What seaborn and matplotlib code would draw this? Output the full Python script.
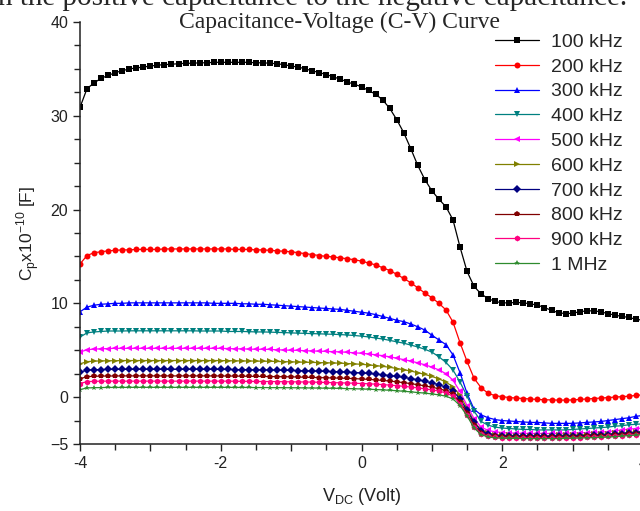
import numpy as np
import pandas as pd
import matplotlib
matplotlib.use("Agg")
import matplotlib.pyplot as plt
import seaborn as sns
from matplotlib.ticker import MultipleLocator, FuncFormatter

# bias voltage, -4 V to 4 V in 0.1 V steps
v_dc = np.round(np.arange(-40, 41) / 10, 1)

freqs = ["100 kHz", "200 kHz", "300 kHz", "400 kHz", "500 kHz",
         "600 kHz", "700 kHz", "800 kHz", "900 kHz", "1 MHz"]

# Cp x 1e-10 F
cp_100k = [30.9, 32.9, 33.5, 34.0, 34.3, 34.6, 34.8, 35.0, 35.1, 35.2,
           35.3, 35.4, 35.45, 35.5, 35.55, 35.6, 35.6, 35.65, 35.65, 35.7,
           35.7, 35.7, 35.7, 35.7, 35.7, 35.65, 35.65, 35.6, 35.55, 35.45,
           35.3, 35.2, 35.0, 34.8, 34.6, 34.4, 34.15, 33.9, 33.6, 33.35,
           33.1, 32.7, 32.3, 31.7, 30.8, 29.6, 28.2, 26.5, 24.7, 23.2,
           22.0, 21.1, 20.3, 18.9, 16.0, 13.4, 11.8, 11.0, 10.5, 10.2,
           10.05, 10.05, 10.1, 10.05, 9.95, 9.8, 9.55, 9.25, 9.0, 8.9,
           8.95, 9.1, 9.2, 9.2, 9.1, 8.9, 8.75, 8.6, 8.5, 8.3,
           8.2]
cp_200k = [14.2, 15.1, 15.4, 15.5, 15.6, 15.65, 15.7, 15.7, 15.75, 15.75,
           15.75, 15.75, 15.8, 15.8, 15.8, 15.8, 15.8, 15.8, 15.8, 15.8,
           15.8, 15.8, 15.75, 15.75, 15.75, 15.7, 15.7, 15.65, 15.6, 15.55,
           15.5, 15.4, 15.3, 15.2, 15.1, 15.0, 14.95, 14.85, 14.75, 14.65,
           14.5, 14.3, 14.1, 13.8, 13.5, 13.1, 12.65, 12.2, 11.65, 11.1,
           10.6, 10.0, 9.3, 8.0, 5.8, 3.8, 2.0, 1.0, 0.4, 0.15,
           0.05, -0.05, -0.1, -0.15, -0.2, -0.25, -0.28, -0.3, -0.32, -0.32,
           -0.3, -0.25, -0.2, -0.15, -0.1, -0.05, 0.0, 0.05, 0.1, 0.18,
           0.25]
cp_300k = [9.1, 9.6, 9.8, 9.9, 9.95, 10.0, 10.0, 10.05, 10.05, 10.05,
           10.05, 10.05, 10.05, 10.05, 10.05, 10.05, 10.05, 10.05, 10.05, 10.0,
           10.0, 10.0, 10.0, 9.95, 9.95, 9.9, 9.9, 9.85, 9.8, 9.75,
           9.7, 9.65, 9.6, 9.55, 9.5, 9.45, 9.4, 9.35, 9.25, 9.15,
           9.05, 8.95, 8.8, 8.6, 8.4, 8.2, 8.05, 7.8, 7.5, 7.15,
           6.6, 6.1, 5.6, 4.5, 2.6, 0.4, -1.3, -1.9, -2.2, -2.4,
           -2.5, -2.55, -2.6, -2.65, -2.7, -2.7, -2.75, -2.8, -2.8, -2.8,
           -2.8, -2.75, -2.7, -2.65, -2.6, -2.5, -2.4, -2.3, -2.2, -2.05,
           -1.95]
cp_400k = [6.4, 6.85, 6.95, 7.0, 7.05, 7.05, 7.05, 7.07, 7.07, 7.07,
           7.07, 7.07, 7.07, 7.07, 7.07, 7.07, 7.07, 7.05, 7.05, 7.05,
           7.05, 7.0, 7.0, 7.0, 6.98, 6.95, 6.95, 6.93, 6.9, 6.88,
           6.85, 6.82, 6.8, 6.77, 6.75, 6.72, 6.7, 6.67, 6.62, 6.57,
           6.5, 6.42, 6.3, 6.2, 6.05, 5.9, 5.75, 5.55, 5.35, 5.1,
           4.8, 4.3, 3.7, 2.9, 1.6, 0.1, -1.5, -2.6, -3.0, -3.2,
           -3.3, -3.35, -3.4, -3.45, -3.45, -3.5, -3.5, -3.5, -3.5, -3.5,
           -3.45, -3.4, -3.35, -3.3, -3.25, -3.2, -3.1, -3.05, -2.95, -2.9,
           -2.85]
cp_500k = [4.8, 5.05, 5.12, 5.15, 5.18, 5.2, 5.2, 5.2, 5.2, 5.2,
           5.2, 5.2, 5.2, 5.2, 5.2, 5.2, 5.2, 5.2, 5.2, 5.2,
           5.2, 5.18, 5.15, 5.15, 5.12, 5.1, 5.1, 5.08, 5.05, 5.02,
           5.0, 4.98, 4.95, 4.92, 4.9, 4.87, 4.85, 4.82, 4.78, 4.72,
           4.68, 4.6, 4.52, 4.42, 4.3, 4.15, 4.0, 3.85, 3.65, 3.45,
           3.2, 2.9, 2.5, 1.8, 0.6, -0.9, -2.3, -3.2, -3.55, -3.7,
           -3.78, -3.82, -3.85, -3.87, -3.88, -3.88, -3.88, -3.88, -3.87, -3.85,
           -3.83, -3.8, -3.78, -3.75, -3.72, -3.68, -3.6, -3.5, -3.42, -3.35,
           -3.3]
cp_600k = [3.55, 3.78, 3.84, 3.86, 3.88, 3.88, 3.9, 3.9, 3.9, 3.9,
           3.9, 3.9, 3.9, 3.9, 3.9, 3.9, 3.9, 3.9, 3.9, 3.9,
           3.9, 3.88, 3.87, 3.86, 3.85, 3.84, 3.83, 3.82, 3.8, 3.78,
           3.76, 3.74, 3.72, 3.7, 3.68, 3.66, 3.64, 3.62, 3.58, 3.54,
           3.5, 3.43, 3.36, 3.28, 3.18, 3.05, 2.92, 2.78, 2.6, 2.42,
           2.2, 1.95, 1.6, 1.1, 0.2, -1.2, -2.6, -3.5, -3.85, -4.0,
           -4.05, -4.08, -4.1, -4.1, -4.1, -4.1, -4.1, -4.1, -4.08, -4.06,
           -4.05, -4.02, -4.0, -3.98, -3.95, -3.92, -3.88, -3.82, -3.76, -3.7,
           -3.65]
cp_700k = [2.65, 2.88, 2.92, 2.94, 2.95, 2.95, 2.96, 2.96, 2.96, 2.96,
           2.96, 2.96, 2.96, 2.96, 2.96, 2.96, 2.96, 2.96, 2.96, 2.96,
           2.95, 2.95, 2.94, 2.93, 2.92, 2.91, 2.9, 2.89, 2.88, 2.86,
           2.84, 2.82, 2.8, 2.78, 2.76, 2.74, 2.72, 2.7, 2.66, 2.62,
           2.58, 2.52, 2.45, 2.38, 2.3, 2.2, 2.1, 1.98, 1.85, 1.7,
           1.52, 1.32, 1.05, 0.65, -0.2, -1.4, -2.7, -3.6, -3.95, -4.1,
           -4.15, -4.18, -4.2, -4.2, -4.2, -4.2, -4.2, -4.2, -4.18, -4.16,
           -4.15, -4.12, -4.1, -4.08, -4.05, -4.02, -3.98, -3.92, -3.86, -3.8,
           -3.75]
cp_800k = [1.95, 2.18, 2.22, 2.24, 2.25, 2.25, 2.26, 2.26, 2.26, 2.26,
           2.26, 2.26, 2.26, 2.26, 2.26, 2.26, 2.26, 2.26, 2.26, 2.26,
           2.25, 2.25, 2.24, 2.23, 2.22, 2.21, 2.2, 2.19, 2.18, 2.17,
           2.16, 2.14, 2.12, 2.1, 2.08, 2.06, 2.04, 2.02, 2.0, 1.97,
           1.93, 1.89, 1.84, 1.78, 1.71, 1.63, 1.54, 1.44, 1.32, 1.2,
           1.05, 0.9, 0.68, 0.3, -0.5, -1.7, -3.0, -3.8, -4.1, -4.2,
           -4.25, -4.27, -4.28, -4.3, -4.3, -4.3, -4.3, -4.3, -4.28, -4.27,
           -4.25, -4.22, -4.2, -4.17, -4.14, -4.1, -4.06, -4.0, -3.95, -3.9,
           -3.85]
cp_900k = [1.45, 1.65, 1.68, 1.7, 1.7, 1.7, 1.7, 1.7, 1.7, 1.7,
           1.7, 1.7, 1.7, 1.7, 1.7, 1.7, 1.7, 1.7, 1.7, 1.7,
           1.7, 1.7, 1.69, 1.68, 1.68, 1.67, 1.66, 1.66, 1.65, 1.64,
           1.63, 1.62, 1.61, 1.6, 1.58, 1.56, 1.54, 1.52, 1.5, 1.48,
           1.45, 1.42, 1.38, 1.33, 1.28, 1.22, 1.15, 1.07, 0.98, 0.88,
           0.77, 0.64, 0.45, 0.1, -0.7, -1.9, -3.2, -3.9, -4.2, -4.3,
           -4.33, -4.35, -4.36, -4.37, -4.38, -4.38, -4.38, -4.38, -4.37, -4.36,
           -4.35, -4.32, -4.3, -4.28, -4.25, -4.2, -4.15, -4.1, -4.05, -4.0,
           -3.95]
cp_1m = [0.8, 0.98, 1.0, 1.02, 1.03, 1.03, 1.03, 1.04, 1.04, 1.04,
         1.04, 1.04, 1.04, 1.04, 1.04, 1.04, 1.04, 1.04, 1.04, 1.04,
         1.04, 1.04, 1.03, 1.03, 1.03, 1.02, 1.02, 1.01, 1.01, 1.0,
         1.0, 0.99, 0.98, 0.97, 0.96, 0.95, 0.94, 0.93, 0.91, 0.89,
         0.87, 0.84, 0.81, 0.77, 0.73, 0.68, 0.62, 0.56, 0.49, 0.42,
         0.34, 0.24, 0.1, -0.2, -0.9, -2.0, -3.3, -4.0, -4.25, -4.35,
         -4.38, -4.4, -4.4, -4.42, -4.42, -4.42, -4.42, -4.42, -4.42, -4.4,
         -4.38, -4.36, -4.34, -4.32, -4.3, -4.26, -4.22, -4.16, -4.1, -4.05,
         -4.0]

series = [cp_100k, cp_200k, cp_300k, cp_400k, cp_500k,
          cp_600k, cp_700k, cp_800k, cp_900k, cp_1m]
colors = ["#000000", "#ff0000", "#0000ff", "#008080", "#ff00ff",
          "#808000", "#000080", "#800000", "#ff0080", "#2e8b2e"]
markers = ["s", "o", "^", "v", "<", ">", "D", "p", "h", "*"]

sns.set_style("ticks")
plt.rcParams["font.family"] = ["Liberation Sans", "DejaVu Sans"]
serif = ["Liberation Serif", "DejaVu Serif"]

fig = plt.figure(figsize=(6.4, 5.11), dpi=100)
ax = fig.add_axes([80 / 640, 1 - 444 / 511, 563 / 640, 422 / 511])

for f, cp, c, m in zip(freqs, series, colors, markers):
    df = pd.DataFrame({"V": v_dc, "Cp": cp})
    sns.lineplot(data=df, x="V", y="Cp", ax=ax, color=c, marker=m,
                 markersize=4.3, markeredgewidth=0, linewidth=0.9, label=f)

ax.set_xlim(-4, 4)
ax.set_ylim(-5, 40)
ax.xaxis.set_major_locator(MultipleLocator(1))
ax.xaxis.set_minor_locator(MultipleLocator(0.5))
ax.xaxis.set_major_formatter(FuncFormatter(lambda v, p: f"{v:.0f}" if round(v) % 2 == 0 else ""))
ax.set_yticks([-5, 0, 10, 20, 30, 40])
ax.yaxis.set_minor_locator(MultipleLocator(2.5))
ax.tick_params(which="major", direction="out", length=5, width=1, labelsize=11.5, colors="#222222")
ax.tick_params(which="minor", direction="out", length=4, width=1, colors="#222222")
for s in ["top", "right"]:
    ax.spines[s].set_visible(False)
for s in ["left", "bottom"]:
    ax.spines[s].set_linewidth(1.1)
    ax.spines[s].set_color("#222222")

ax.set_xlabel("V$_{\\mathregular{DC}}$ (Volt)", fontsize=13, color="#222222", labelpad=11)
ax.set_ylabel("C$_{\\mathregular{p}}$x10$^{\\mathregular{-10}}$ [F]", fontsize=12.5, color="#222222", labelpad=6)

ax.legend(loc="upper left", bbox_to_anchor=(0.773, 0.935), bbox_transform=fig.transFigure,
          frameon=False, fontsize=14, handlelength=2.3, labelspacing=0.37,
          handletextpad=0.6, borderpad=0, borderaxespad=0)

fig.text(0.53, 1 - 28 / 511, "Capacitance-Voltage (C-V) Curve", ha="center", va="baseline",
         fontsize=17, family=serif)
fig.text(0.98, 1 - 5 / 511, "n the positive capacitance to the negative capacitance.",
         ha="right", va="baseline", fontsize=21, family=serif)

fig.savefig("out.png", dpi=100)
